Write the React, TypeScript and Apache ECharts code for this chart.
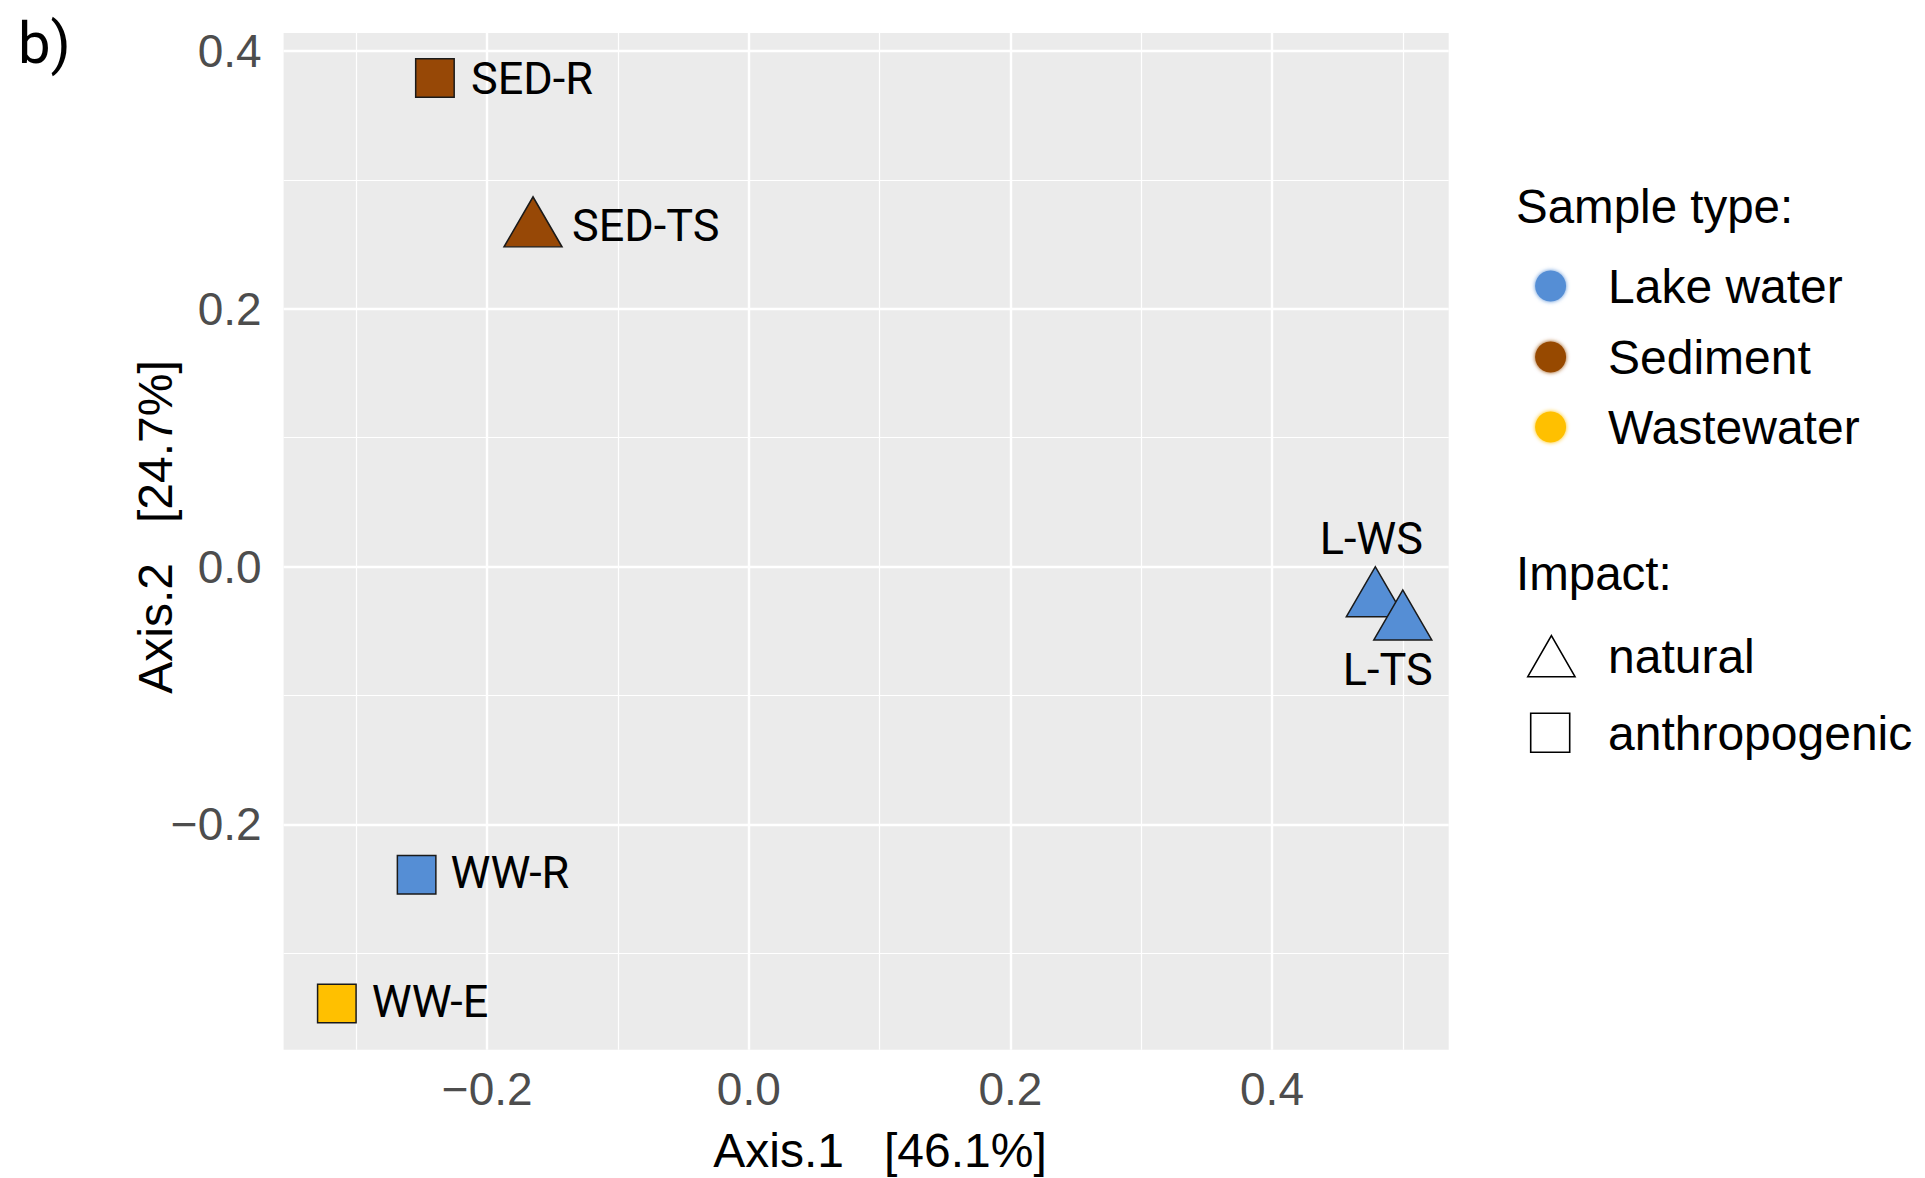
import React, { useEffect, useRef } from "react";
import * as echarts from "echarts";

// ---- data ----
const sampleNames = ["SED-R", "SED-TS", "L-WS", "L-TS", "WW-R", "WW-E"];
const axis1Values = [-0.240, -0.165, 0.479, 0.500, -0.254, -0.315];
const axis2Values = [0.379, 0.261, -0.026, -0.044, -0.239, -0.339];
const sampleTypeOf = ["Sediment", "Sediment", "Lake water", "Lake water", "Lake water", "Wastewater"];
const impactOf = ["anthropogenic", "natural", "natural", "natural", "anthropogenic", "anthropogenic"];
const typeLevels = ["Lake water", "Sediment", "Wastewater"];
const impactLevels = ["natural", "anthropogenic"];
const xMajorTicks = [-0.2, 0, 0.2, 0.4];
const yMajorTicks = [-0.2, 0, 0.2, 0.4];
const xMinorTicks = [-0.3, -0.1, 0.1, 0.3, 0.5];
const yMinorTicks = [-0.3, -0.1, 0.1, 0.3];
const xTitle = "Axis.1   [46.1%]";
const yTitle = "Axis.2   [24.7%]";
const panelTag = "b)";

// ---- styles ----
const typeColors: Record<string, string> = {
  "Lake water": "#558ED5",
  Sediment: "#974806",
  Wastewater: "#FFC000",
};
const labelPlacement: Record<string, { align: string; offset: number[] }> = {
  "SED-R": { align: "left", offset: [36, 0] },
  "SED-TS": { align: "left", offset: [39, 4] },
  "L-WS": { align: "center", offset: [-4, -53] },
  "L-TS": { align: "center", offset: [-15, 55] },
  "WW-R": { align: "left", offset: [34, -2] },
  "WW-E": { align: "left", offset: [35, -2] },
};
const SANS = '"Liberation Sans", Arial, sans-serif';
const NARROW = 'Roboto, "Liberation Sans", sans-serif';
const TRI_W = 58;
const TRI_H = 50;
const SQ = 38.5;

function fmt(v: number) {
  const s = Math.abs(v).toFixed(1);
  return v < -1e-9 ? "\u2212" + s : s;
}

export default function App() {
  const ref = useRef<HTMLDivElement>(null);
  useEffect(() => {
    if (!ref.current) return;
    const chart = echarts.init(ref.current, undefined, { renderer: "svg" });

    const series: any[] = typeLevels.map((t, si) => {
      const data: any[] = [];
      sampleNames.forEach((n, i) => {
        if (sampleTypeOf[i] !== t) return;
        const tri = impactOf[i] === "natural";
        const lp = labelPlacement[n];
        data.push({
          name: n,
          value: [axis1Values[i], axis2Values[i]],
          symbol: tri ? "triangle" : "rect",
          symbolSize: tri ? [TRI_W, TRI_H] : [SQ, SQ],
          symbolOffset: tri ? [0, -TRI_H / 6] : [0, 0],
          label: {
            show: true,
            position: "inside",
            formatter: n,
            align: lp.align,
            verticalAlign: "middle",
            offset: lp.offset,
            color: "#000",
            fontSize: 45,
            fontFamily: NARROW,
          },
        });
      });
      const s: any = {
        type: "scatter",
        name: t,
        z: 3,
        data,
        itemStyle: { color: typeColors[t], borderColor: "#1a1a1a", borderWidth: 1.5, opacity: 1 },
        emphasis: { disabled: true },
      };
      if (si === 0) {
        s.markLine = {
          silent: true,
          symbol: "none",
          z: 1,
          animation: false,
          label: { show: false },
          emphasis: { disabled: true },
          data: [
            ...xMinorTicks.map((v) => ({ xAxis: v, lineStyle: { color: "#ffffff", width: 1.2, type: "solid" } })),
            ...yMinorTicks.map((v) => ({ yAxis: v, lineStyle: { color: "#ffffff", width: 1.2, type: "solid" } })),
            ...xMajorTicks.map((v) => ({ xAxis: v, lineStyle: { color: "#ffffff", width: 2.4, type: "solid" } })),
            ...yMajorTicks.map((v) => ({ yAxis: v, lineStyle: { color: "#ffffff", width: 2.4, type: "solid" } })),
          ],
        };
      }
      return s;
    });

    const legendX = 1516;
    const iconX = 1550.6;
    const textX = 1608;
    const typeRowsY = [286, 357, 427];
    const graphic: any[] = [
      {
        type: "text",
        x: 18,
        y: 14,
        style: { text: panelTag, fontSize: 58, fontFamily: NARROW, fill: "#000", align: "left", verticalAlign: "top" },
      },
      {
        type: "text",
        x: 880,
        y: 1150,
        style: { text: xTitle, fontSize: 48, fontFamily: SANS, fill: "#000", align: "center", verticalAlign: "middle" },
      },
      {
        type: "text",
        x: 155,
        y: 527,
        rotation: Math.PI / 2,
        style: { text: yTitle, fontSize: 48, fontFamily: SANS, fill: "#000", align: "center", verticalAlign: "middle" },
      },
      {
        type: "text",
        x: legendX,
        y: 206,
        style: { text: "Sample type:", fontSize: 47.5, fontFamily: SANS, fill: "#000", align: "left", verticalAlign: "middle" },
      },
      {
        type: "text",
        x: legendX,
        y: 573,
        style: { text: "Impact:", fontSize: 47.5, fontFamily: SANS, fill: "#000", align: "left", verticalAlign: "middle" },
      },
    ];
    typeLevels.forEach((t, i) => {
      graphic.push({
        type: "circle",
        shape: { cx: iconX, cy: typeRowsY[i], r: 15.5 },
        style: { fill: typeColors[t], shadowBlur: 4, shadowColor: typeColors[t] },
      });
      graphic.push({
        type: "text",
        x: textX,
        y: typeRowsY[i],
        style: { text: t, fontSize: 48, fontFamily: SANS, fill: "#000", align: "left", verticalAlign: "middle" },
      });
    });
    const impactRowsY = [656, 733];
    graphic.push({
      type: "polygon",
      shape: {
        points: [
          [1551.4, 635.7],
          [1575, 676.7],
          [1527.8, 676.7],
        ],
      },
      style: { fill: "#fff", stroke: "#000", lineWidth: 1.6 },
    });
    graphic.push({
      type: "rect",
      shape: { x: 1530.7, y: 713.3, width: 39, height: 39 },
      style: { fill: "#fff", stroke: "#000", lineWidth: 1.6 },
    });
    impactLevels.forEach((t, i) => {
      graphic.push({
        type: "text",
        x: textX,
        y: impactRowsY[i],
        style: { text: t, fontSize: 48, fontFamily: SANS, fill: "#000", align: "left", verticalAlign: "middle" },
      });
    });

    chart.setOption({
      animation: false,
      backgroundColor: "#ffffff",
      grid: {
        left: 283.6,
        top: 33.1,
        width: 1165.1,
        height: 1016.6,
        show: true,
        backgroundColor: "#EBEBEB",
        borderWidth: 0,
        containLabel: false,
      },
      xAxis: {
        type: "value",
        min: -0.3557,
        max: 0.5351,
        axisLine: { show: false },
        splitLine: { show: false },
        axisTick: { show: true, customValues: xMajorTicks, length: 10, lineStyle: { color: "#333333", width: 2 } },
        axisLabel: {
          customValues: xMajorTicks,
          formatter: (v: number) => fmt(v),
          color: "#4d4d4d",
          fontSize: 46,
          fontFamily: SANS,
          margin: 16,
        },
      },
      yAxis: {
        type: "value",
        min: -0.3748,
        max: 0.4139,
        axisLine: { show: false },
        splitLine: { show: false },
        axisTick: { show: true, customValues: yMajorTicks, length: 10, lineStyle: { color: "#333333", width: 2 } },
        axisLabel: {
          customValues: yMajorTicks,
          formatter: (v: number) => fmt(v),
          color: "#4d4d4d",
          fontSize: 46,
          fontFamily: SANS,
          margin: 22,
        },
      },
      series,
      graphic,
    });
    return () => chart.dispose();
  }, []);
  return (
    <div
      ref={ref}
      style={{ position: "fixed", left: 0, top: 0, width: 1925, height: 1178, background: "#fff" }}
    />
  );
}
